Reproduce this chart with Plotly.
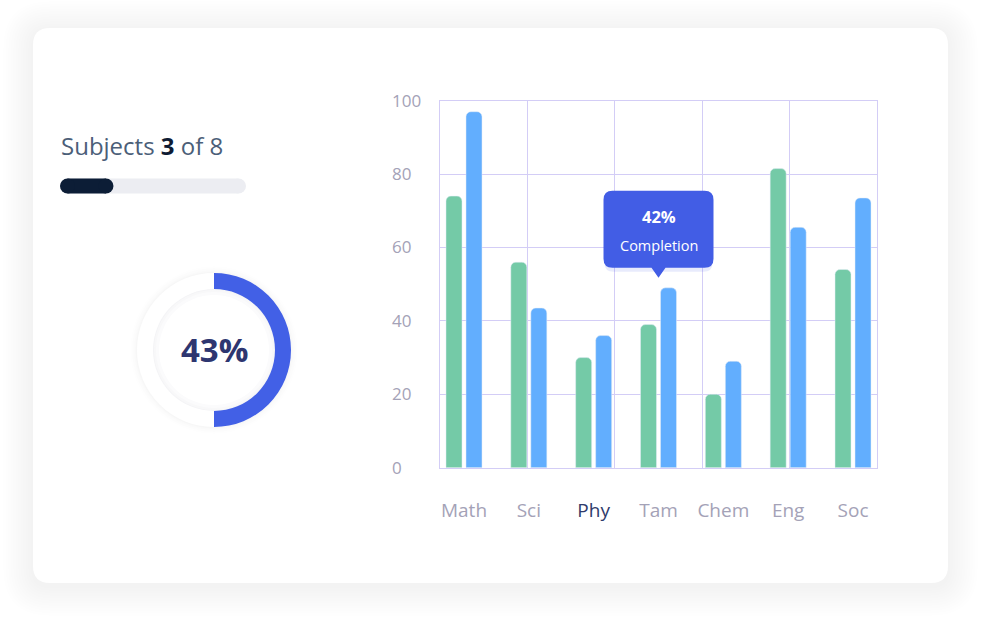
import plotly.graph_objects as go

# ---------------- data ----------------
subjects = ["Math", "Sci", "Phy", "Tam", "Chem", "Eng", "Soc"]
series_green = [74, 56, 30, 39, 20, 81.5, 54]
series_blue = [97, 43.5, 36, 49, 29, 65.5, 73.5]
y_ticks = [0, 20, 40, 60, 80, 100]
highlight_subject = "Phy"
tooltip_subject = "Tam"
tooltip_value = "42%"
tooltip_label = "Completion"
ring_values = [50, 50]          # filled / remaining (as drawn)
ring_label = "43%"
progress_total = 8
progress_value = 1.8            # as drawn
subjects_done = 3

W, H = 982, 621
FONT = "Open Sans"
GREEN = "#74CAA7"
BLUE = "#62AEFE"
GRID = "#D3CDF6"
TICK = "#A4A2B7"
ACCENT = "#425DE5"


def px_x(v):
    return v / W


def px_y(v):
    return 1 - v / H


def rrect_path(x0, y0, x1, y1, r):
    # pixel coords (y downward) -> shape path with y upward
    a, b, c, d = x0, -y0, x1, -y1
    return (f"M {a+r},{b} L {c-r},{b} Q {c},{b} {c},{b-r} L {c},{d+r} "
            f"Q {c},{d} {c-r},{d} L {a+r},{d} Q {a},{d} {a},{d+r} "
            f"L {a},{b-r} Q {a},{b} {a+r},{b} Z")


fig = go.Figure()

# --------- bar chart ---------
fig.add_trace(go.Bar(x=subjects, y=series_green, marker=dict(color=GREEN, cornerradius=5),
                     hoverinfo="skip", showlegend=False))
fig.add_trace(go.Bar(x=subjects, y=series_blue, marker=dict(color=BLUE, cornerradius=5),
                     hoverinfo="skip", showlegend=False))
# helper invisible traces so overlay axes are drawn
fig.add_trace(go.Scatter(x=[0, 5], y=[0, 0], xaxis="x2", yaxis="y", mode="markers",
                         marker=dict(opacity=0), hoverinfo="skip", showlegend=False))
fig.add_trace(go.Scatter(x=[subjects[0]], y=[0], xaxis="x", yaxis="y2", mode="markers",
                         marker=dict(opacity=0), hoverinfo="skip", showlegend=False))

# --------- progress bar ---------
fig.add_trace(go.Scatter(x=[0, progress_total], y=[0, 0], xaxis="x3", yaxis="y3",
                         mode="lines+markers", line=dict(color="#ECEDF2", width=15),
                         marker=dict(color="#ECEDF2", size=15), hoverinfo="skip", showlegend=False))
fig.add_trace(go.Scatter(x=[0, progress_value], y=[0, 0], xaxis="x3", yaxis="y3",
                         mode="lines+markers", line=dict(color="#0C1D36", width=15),
                         marker=dict(color="#0C1D36", size=15), hoverinfo="skip", showlegend=False))

# --------- donut ---------
cx, cy, R = 214, 350, 77
fig.add_trace(go.Pie(values=ring_values, hole=61 / 77, sort=False, direction="clockwise",
                     rotation=0, marker=dict(colors=["#4260E6", "#FFFFFF"], line=dict(width=0)),
                     textinfo="none", hoverinfo="skip", showlegend=False,
                     domain=dict(x=[px_x(cx - R), px_x(cx + R)], y=[px_y(cy + R), px_y(cy - R)])))

tick_text = [f'<span style="color:#2F3A6B">{s}</span>' if s == highlight_subject else s
             for s in subjects]

x0p, x1p, y0p, y1p = 440, 877, 100.7, 467.7
fig.update_layout(
    width=W, height=H, margin=dict(l=0, r=0, t=0, b=0, pad=0, autoexpand=False),
    paper_bgcolor="white", plot_bgcolor="rgba(0,0,0,0)",
    font=dict(family=FONT),
    barmode="group", bargap=0.383, bargroupgap=0.2,
    xaxis=dict(domain=[px_x(x0p), px_x(x1p)], anchor="y", type="category",
               range=[-0.37, 6.37], tickvals=subjects, ticktext=tick_text,
               showgrid=False, showline=True, linecolor=GRID, linewidth=1.3, mirror=True,
               ticks="outside", ticklen=25, tickcolor="rgba(0,0,0,0)",
               tickfont=dict(size=19, color=TICK, family=FONT), fixedrange=True),
    xaxis2=dict(overlaying="x", anchor="y", range=[0, 5], dtick=1, tick0=0,
                showgrid=True, gridcolor=GRID, gridwidth=1.3, showticklabels=False,
                zeroline=False, showline=False, fixedrange=True),
    yaxis=dict(domain=[px_y(y1p), px_y(y0p)], anchor="x", range=[0, 100], tickvals=y_ticks,
               showgrid=True, gridcolor=GRID, gridwidth=1.3, zeroline=False,
               showline=True, linecolor=GRID, linewidth=1.3, mirror=True,
               showticklabels=False, fixedrange=True),
    yaxis2=dict(overlaying="y", anchor="free", position=px_x(391), side="right",
                range=[0, 100], tickvals=y_ticks, showgrid=False, zeroline=False,
                showline=False, ticks="", tickfont=dict(size=17, color=TICK, family=FONT),
                fixedrange=True),
    xaxis3=dict(domain=[px_x(60), px_x(246)], anchor="y3", range=[-0.351, progress_total + 0.351],
                visible=False, fixedrange=True),
    yaxis3=dict(domain=[px_y(194), px_y(178)], anchor="x3", range=[-1, 1],
                visible=False, fixedrange=True),
)

shapes = []
# card shadow + card
for i in range(12, 0, -1):
    e = i * 2.5
    shapes.append(dict(type="path", xref="paper", yref="paper", xsizemode="pixel", ysizemode="pixel",
                       xanchor=0, yanchor=1,
                       path=rrect_path(33 - e, 28 - e + 3, 948 + e, 583 + e + 3, 17 + e),
                       fillcolor="rgba(0,0,0,0.0035)", line=dict(width=0), layer="below"))
shapes.append(dict(type="path", xref="paper", yref="paper", xsizemode="pixel", ysizemode="pixel",
                   xanchor=0, yanchor=1, path=rrect_path(33, 28, 948, 583, 17),
                   fillcolor="white", line=dict(width=0), layer="below"))

# donut soft shadows
def circ(r, color):
    return dict(type="circle", xref="paper", yref="paper", xsizemode="pixel", ysizemode="pixel",
                xanchor=px_x(cx), yanchor=px_y(cy), x0=-r, x1=r, y0=-r, y1=r,
                fillcolor=color, line=dict(width=0), layer="below")

for r, c in [(84, "rgba(0,0,0,0.005)"), (82, "rgba(0,0,0,0.006)"), (80, "rgba(0,0,0,0.008)"),
             (78.5, "rgba(0,0,0,0.01)"),
             (62, "#F4F4F6"), (60, "#F8F8F9"), (58, "#FBFBFC"), (55, "#FFFFFF")]:
    shapes.append(circ(r, c))

# tooltip bubble anchored at tooltip subject / blue value
ti = subjects.index(tooltip_subject)
tip_y = series_blue[ti]
bubble = (rrect_path(-55, -97, 55, -20, 9)[:-2] + " Z M -7,20 L 0,10 L 7,20 Z")
shapes.append(dict(type="path", xref="x", yref="y", xsizemode="pixel", ysizemode="pixel",
                   xanchor=tooltip_subject, yanchor=tip_y,
                   path=rrect_path(-54, -95, 54, -16, 9),
                   fillcolor="rgba(66,93,229,0.12)", line=dict(width=0), layer="above"))
shapes.append(dict(type="path", xref="x", yref="y", xsizemode="pixel", ysizemode="pixel",
                   xanchor=tooltip_subject, yanchor=tip_y, path=bubble,
                   fillcolor=ACCENT, line=dict(width=0), layer="above"))
fig.update_layout(shapes=shapes)

annotations = [
    dict(x=tooltip_subject, y=tip_y, xref="x", yref="y", yshift=71, showarrow=False,
         xanchor="center", yanchor="middle",
         text=f"<b>{tooltip_value}</b>", font=dict(size=16.5, color="white", family=FONT)),
    dict(x=tooltip_subject, y=tip_y, xref="x", yref="y", yshift=42, showarrow=False,
         xanchor="center", yanchor="middle",
         text=tooltip_label, font=dict(size=14.5, color="white", family=FONT)),
    dict(x=px_x(cx), y=px_y(cy), xref="paper", yref="paper", showarrow=False,
         xanchor="center", yanchor="middle",
         text=f"<b>{ring_label}</b>", font=dict(size=33, color="#2E3670", family=FONT)),
    dict(x=px_x(59), y=px_y(145), xref="paper", yref="paper", xanchor="left", yanchor="middle",
         showarrow=False,
         text=f'Subjects <span style="color:#0F1B33"><b>{subjects_done}</b></span> of {progress_total}',
         font=dict(size=24, color="#4B5E78", family=FONT)),
]
fig.update_layout(annotations=annotations)

fig.write_html("out.html")
